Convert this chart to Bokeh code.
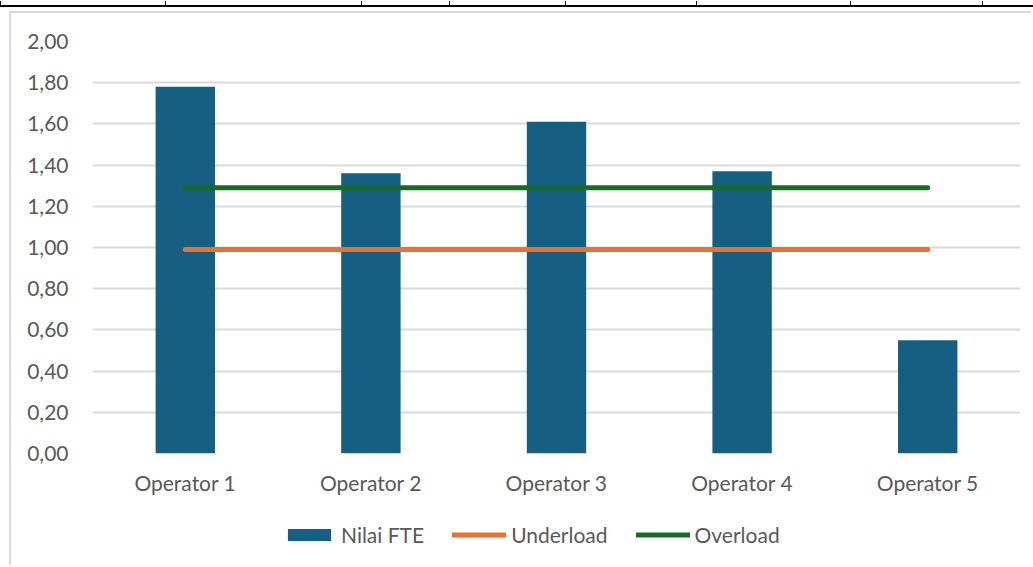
from bokeh.plotting import figure
from bokeh.models import (FactorRange, Range1d, FixedTicker, CustomJSTickFormatter,
                          Legend, LegendItem, Div)
from bokeh.layouts import column
from bokeh.embed import file_html
from bokeh.resources import INLINE

# ---- data ----
categories = ["Operator 1", "Operator 2", "Operator 3", "Operator 4", "Operator 5"]
nilai_fte = [1.78, 1.36, 1.61, 1.37, 0.55]
underload = [0.99, 0.99, 0.99, 0.99, 0.99]
overload = [1.29, 1.29, 1.29, 1.29, 1.29]
y_ticks = [0.0, 0.2, 0.4, 0.6, 0.8, 1.0, 1.2, 1.4, 1.6, 1.8, 2.0]

# decorative table strip (remnant of the spreadsheet above the chart)
strip_cols = [0, 165, 361, 449, 565, 696, 850, 982]

FONT = "Lato"
TXT = "#595959"
FS = "21px"
BLUE, ORANGE, GREEN = "#156082", "#E97132", "#196B24"
BORDER = "2px solid #d9d9d9"

# ---- top strip (plain HTML) ----
parts = ['<div style="position:relative;width:1033px;height:11px;overflow:hidden;">',
         '<div style="position:absolute;left:0;top:4px;width:1033px;height:2px;background:#000;"></div>']
for c in strip_cols:
    parts.append('<div style="position:absolute;left:%dpx;top:0;width:1px;height:5px;background:#000;"></div>' % c)
parts.append('</div>')
strip = Div(text="".join(parts), width=1033, height=11, margin=0)

# ---- main chart ----
p = figure(width=1022, height=497, x_range=FactorRange(*categories), y_range=Range1d(0, 2),
           output_backend="svg", toolbar_location=None,
           min_border_left=81, min_border_right=13, min_border_top=28, min_border_bottom=57,
           margin=(0, 0, 0, 9), styles={"border-left": BORDER, "border-top": BORDER})
p.outline_line_color = None

p.vbar(x=categories, top=nilai_fte, width=0.32, fill_color=BLUE, line_color=None)
p.line(x=categories, y=underload, line_color=ORANGE, line_width=5, line_cap="round")
p.line(x=categories, y=overload, line_color=GREEN, line_width=5, line_cap="round")

p.xgrid.grid_line_color = None
p.ygrid.grid_line_color = "#d9d9d9"
p.ygrid.grid_line_width = 2
p.yaxis.ticker = FixedTicker(ticks=y_ticks)
p.yaxis.formatter = CustomJSTickFormatter(code="return tick.toFixed(2).replace('.', ',');")

for ax in (p.xaxis[0], p.yaxis[0]):
    ax.axis_line_color = None
    ax.major_tick_line_color = None
    ax.minor_tick_line_color = None
    ax.major_tick_out = 0
    ax.major_tick_in = 0
    ax.minor_tick_out = 0
    ax.minor_tick_in = 0
    ax.major_label_text_font = FONT
    ax.major_label_text_color = TXT
    ax.major_label_text_font_size = FS
p.yaxis.major_label_standoff = 24
p.xaxis.major_label_standoff = 16

# ---- legend strip (same series, drawn out of view so only the legend shows) ----
lg = figure(width=1022, height=57, x_range=FactorRange(*categories), y_range=Range1d(10, 11),
            output_backend="svg", toolbar_location=None,
            min_border_left=81, min_border_right=13, min_border_top=0, min_border_bottom=0,
            margin=(0, 0, 0, 9), styles={"border-left": BORDER})
lg.axis.visible = False
lg.grid.visible = False
lg.outline_line_color = None
r_bar = lg.vbar(x=categories, top=nilai_fte, width=0.32, fill_color=BLUE, line_color=None)
r_under = lg.line(x=categories, y=underload, line_color=ORANGE, line_width=5, line_cap="round")
r_over = lg.line(x=categories, y=overload, line_color=GREEN, line_width=5, line_cap="round")

legend = Legend(items=[LegendItem(label="Nilai FTE", renderers=[r_bar]),
                       LegendItem(label="Underload", renderers=[r_under]),
                       LegendItem(label="Overload", renderers=[r_over])],
                orientation="horizontal", location=(190, 18),
                glyph_width=54, glyph_height=15, label_standoff=5, spacing=28,
                padding=0, margin=0, border_line_color=None, background_fill_alpha=0,
                label_text_font=FONT, label_text_color=TXT, label_text_font_size=FS)
lg.add_layout(legend, "center")

layout = column(strip, p, lg, spacing=0)
open("out.html", "w").write(file_html(layout, INLINE))
